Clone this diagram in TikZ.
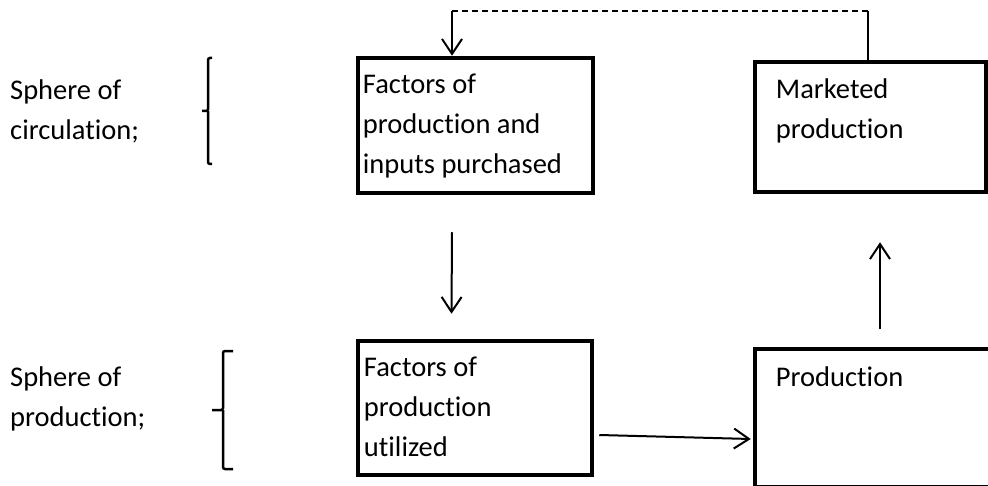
\documentclass[tikz,border=0pt]{standalone}
\usepackage{fontspec}
\setmainfont{Carlito}[Ligatures=NoCommon]
\usetikzlibrary{arrows.meta,calc}
\tikzset{
	box/.style={draw, line width=4.5pt, inner sep=0pt},
	txt/.style={align=left, inner sep=0pt, anchor=base west, font=\fontsize{28.5}{40}\selectfont},
	arr/.style={line width=2pt, -{Straight Barb[length=15pt,width=20pt,line width=2pt]}},
	brace/.style={line width=2.5pt, rounded corners=2pt}
}
\begin{document}
\begin{tikzpicture}[x=1pt,y=-1pt]
		\useasboundingbox (0,0) rectangle (988,486);
		\clip (0,0) rectangle (988,486);
		\node[box, minimum width=235pt, minimum height=135pt] (buy) at (475.5,125.5) {};
		\node[box, minimum width=231pt, minimum height=130pt] (market) at (870.5,127) {};
		\node[box, minimum width=234pt, minimum height=134pt] (use) at (475,408) {};
		\node[box, minimum width=245pt, minimum height=138.5pt] (prod) at (877.5,418.25) {};
		\node[txt] (buytxt) at ($(buy.north west)+(7,118)$) {Factors of\\production and\\inputs purchased};
		\node[txt] (markettxt) at ($(market.north west)+(23,79)$) {Marketed\\production};
		\node[txt] (usetxt) at ($(use.north west)+(8,118)$) {Factors of\\production\\utilized};
		\node[txt] (prodtxt) at ($(prod.north west)+(23,40)$) {Production};
		\node[txt] (circ) at (10,140) {Sphere of\\circulation;};
		\node[txt] (sprod) at (10,426) {Sphere of\\production;};
		\draw[brace] (212,58) -- (208,58) -- (208,111) -- (202,111) (208,111) -- (208,164) -- (212,164);
		\draw[brace] (233,351) -- (223,351) -- (223,410) -- (212,410) (223,410) -- (223,469) -- (233,469);
		\draw[arr] ($(buy.south)+(-23.5,37)$) -- ($(use.north)+(-23.5,-25)$);
		\draw[arr] ($(use.east)+(5,27)$) -- ($(prod.west)+(-2,20.75)$);
		\draw[arr] ($(market.south)+(9.5,135)$) -- ($(market.south)+(9.5,48)$);
		\coordinate (turn) at ($(market.north)+(-2.5,-49)$);
		\coordinate (back) at ($(buy.north)+(-23.5,-45)$);
		\draw[line width=2pt] ($(market.north)+(-2.5,0)$) -- (turn);
		\draw[line width=2pt, dash pattern=on 6pt off 4pt] (turn) -- (back);
		\draw[arr] (back) -- ($(buy.north)+(-23.5,0)$);
\end{tikzpicture}
\end{document}
